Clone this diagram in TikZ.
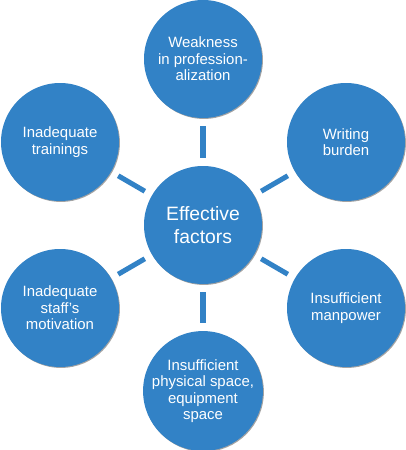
\documentclass[tikz,border=0pt]{standalone}
\usepackage{fontspec}
\setmainfont{Liberation Sans}
\usepackage{xcolor}
\usetikzlibrary{shadows}

\definecolor{factorblue}{RGB}{50,130,198}

\begin{document}
\begin{tikzpicture}[
    x=0.75pt, y=-0.75pt,
    factor/.style={circle, fill=factorblue, text=white, inner sep=0pt, minimum size=88.5pt,
        align=center, font=\fontsize{11.2}{12.4}\selectfont,
        drop shadow={shadow xshift=0.7pt, shadow yshift=-0.7pt, fill=black!60, opacity=0.6}},
    hub/.style={factor, font=\fontsize{14.5}{17}\selectfont},
    link/.style={draw=factorblue, line width=3.8pt, shorten <=6pt, shorten >=6pt}
]
\useasboundingbox (0,0) rectangle (406,450);

% Central node
\node[hub] (center) at (203,225) {Effective\\factors};

% Surrounding factors
\node[factor] (weak) at (203,59) {Weakness\\in profession-\\alization};
\node[factor] (writing) at (346,142) {Writing\\burden};
\node[factor] (manpower) at (346,308) {Insufficient\\manpower};
\node[factor] (space) at (203,391) {Insufficient\\physical space,\\equipment\\space};
\node[factor] (motivation) at (60,308) {Inadequate\\staff's\\motivation};
\node[factor] (trainings) at (60,142) {Inadequate\\trainings};

% Links
\draw[link] (center) -- (weak);
\draw[link] (center) -- (writing);
\draw[link] (center) -- (manpower);
\draw[link] (center) -- (space);
\draw[link] (center) -- (motivation);
\draw[link] (center) -- (trainings);

\end{tikzpicture}
\end{document}
